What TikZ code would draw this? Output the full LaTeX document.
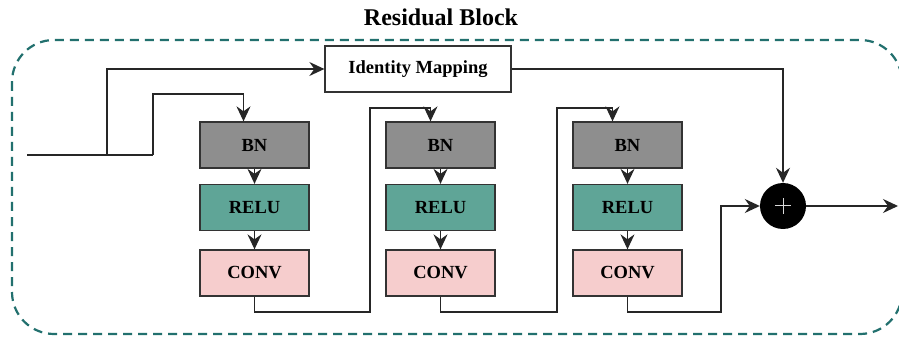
\documentclass[tikz,border=0pt]{standalone}
\usepackage{fontspec}
\setmainfont{Liberation Serif}
\usetikzlibrary{arrows.meta}
\definecolor{bngray}{HTML}{8E8E8E}
\definecolor{reluteal}{HTML}{5FA597}
\definecolor{convpink}{HTML}{F6CDCD}
\definecolor{bordteal}{HTML}{22706E}
\tikzset{
  blk/.style={draw=black!80, line width=1.3pt, minimum width=109pt, minimum height=46pt, inner sep=0pt, font=\fontsize{18.5}{20}\selectfont\bfseries},
  bnbox/.style={blk, fill=bngray},
  relubox/.style={blk, fill=reluteal},
  convbox/.style={blk, fill=convpink},
  wire/.style={draw=black!85, line width=1.3pt},
  arr/.style={wire, -{Stealth[length=15pt,width=14pt,inset=5pt]}},
}
\begin{document}
\begin{tikzpicture}[x=1pt,y=-1pt]
\useasboundingbox (0,0) rectangle (899,339);
\fill[white] (0,0) rectangle (899,339);
% border
\draw[bordteal, line width=2.2pt, dash pattern=on 9pt off 6pt, rounded corners=42pt] (12,40) rectangle (902,334);
% title
\node[font=\fontsize{24}{26}\selectfont\bfseries] (title) at (441,17) {Residual Block};
% identity mapping
\node[draw=black!80, line width=1.3pt, fill=white, minimum width=186pt, minimum height=46pt, inner sep=0pt, font=\fontsize{18.5}{20}\selectfont\bfseries] (id) at (418,69) {Identity Mapping};
% columns
\node[bnbox] (bn1) at (254.5,145) {BN};
\node[relubox] (relu1) at (254.5,207.5) {RELU};
\node[convbox] (conv1) at (254.5,273) {CONV};
\node[bnbox] (bn2) at (440.5,145) {BN};
\node[relubox] (relu2) at (440.5,207.5) {RELU};
\node[convbox] (conv2) at (440.5,273) {CONV};
\node[bnbox] (bn3) at (627.5,145) {BN};
\node[relubox] (relu3) at (627.5,207.5) {RELU};
\node[convbox] (conv3) at (627.5,273) {CONV};
% plus
\node[circle, fill=black, minimum size=46pt, inner sep=0pt] (plus) at (783,206) {};
\draw[white!85!black, line width=1pt] ([xshift=-8pt]plus.center) -- ([xshift=8pt]plus.center) ([yshift=-8pt]plus.center) -- ([yshift=8pt]plus.center);
% input
\coordinate (in) at (27,155);
\coordinate (out) at (898,206);
\draw[wire] (in) -- (153,155);
\draw[arr] (107,155) |- (id.west);
\draw[arr] (153,155) -- (153,94) -| ([xshift=-11pt]bn1.north);
% column internal
\foreach \i in {1,2,3}{
  \draw[arr] (bn\i.south) -- (relu\i.north);
  \draw[arr] (relu\i.south) -- (conv\i.north);
}
\draw[arr] (conv1.south) -- (254.5,312) -- (370,312) -- (370,108) -| ([xshift=-10pt]bn2.north);
\draw[arr] (conv2.south) -- (440.5,312) -- (557,312) -- (557,108) -| ([xshift=-15pt]bn3.north);
\draw[arr] (conv3.south) -- (627.5,312) -- (721,312) |- (plus.west);
\draw[arr] (id.east) -| (plus.north);
\draw[arr] (plus.east) -- (out);
\end{tikzpicture}
\end{document}
